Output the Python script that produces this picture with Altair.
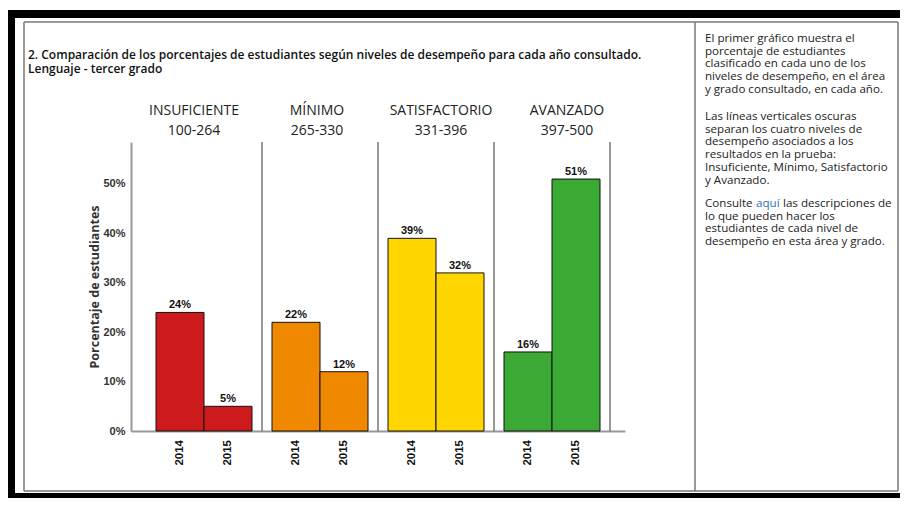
import altair as alt
import pandas as pd

# ---------------- data ----------------
levels = ["INSUFICIENTE", "MÍNIMO", "SATISFACTORIO", "AVANZADO"]
ranges = ["100-264", "265-330", "331-396", "397-500"]
years = ["2014", "2015"]
pct_2014 = [24, 22, 39, 16]
pct_2015 = [5, 12, 32, 51]
colors = ["#cd1a1c", "#f08800", "#ffd600", "#3aaa35"]
y_ticks = [0, 10, 20, 30, 40, 50]

title_lines = [
    "2. Comparación de los porcentajes de estudiantes según niveles de desempeño para cada año consultado.",
    "Lenguaje - tercer grado",
]
para1 = [
    "El primer gráfico muestra el",
    "porcentaje de estudiantes",
    "clasificado en cada uno de los",
    "niveles de desempeño, en el área",
    "y grado consultado, en cada año.",
]
para2 = [
    "Las líneas verticales oscuras",
    "separan los cuatro niveles de",
    "desempeño asociados a los",
    "resultados en la prueba:",
    "Insuficiente, Mínimo, Satisfactorio",
    "y Avanzado.",
]
para3_first = ["Consulte", "aquí", "las descripciones de"]
para3_rest = [
    "lo que pueden hacer los",
    "estudiantes de cada nivel de",
    "desempeño en esta área y grado.",
]
y_title = "Porcentaje de estudiantes"

rows = []
for i, lv in enumerate(levels):
    for yr, vals in zip(years, [pct_2014, pct_2015]):
        rows.append({"level": lv, "year": yr, "pct": vals[i], "label": f"{vals[i]}%"})
df = pd.DataFrame(rows)
hdr = pd.DataFrame({"level": levels, "range": ranges})
one = alt.Data(values=[{"k": 1}])

# ---------------- layout / style ----------------
W, H = 494, 289
PAD = {"left": 123, "top": 134, "right": 892 - 123 - W, "bottom": 490 - 134 - H}
header_dx = [-10, -3, 5, 15]  # header text nudges (HTML-like placement)

TXT_FONT = "Open Sans"
NUM_FONT = "Liberation Sans Narrow, Arial Narrow, Liberation Sans, sans-serif"

x_scale = alt.Scale(domain=levels, paddingInner=20 / 116, paddingOuter=25 / 116)
xo_scale = alt.Scale(domain=years, paddingInner=0, paddingOuter=0)
y_scale = alt.Scale(domain=[0, 58.5], nice=False)
c_scale = alt.Scale(domain=levels, range=colors)

x_axis = alt.Axis(labels=False, ticks=False, title=None, domainColor="#999",
                  domainWidth=2, grid=False)
y_axis = alt.Axis(values=y_ticks, labelExpr="datum.value + '%'", ticks=False,
                  domainColor="#999", domainWidth=2, grid=False,
                  labelFont=NUM_FONT, labelFontSize=11, labelFontWeight="bold",
                  labelColor="#333", labelPadding=6,
                  title=y_title, titleFont=TXT_FONT, titleFontSize=12.5,
                  titleFontWeight="bold", titleColor="#333", titlePadding=1)


def X(**kw):
    return alt.X("level:N", scale=x_scale, axis=x_axis, sort=levels, title=None, **kw)


def Y(field="pct:Q"):
    return alt.Y(field, scale=y_scale, axis=y_axis, title=y_title)


bars = alt.Chart(df).mark_bar(stroke="#111", strokeWidth=1).encode(
    x=X(),
    xOffset=alt.XOffset("year:N", scale=xo_scale),
    y=Y(),
    color=alt.Color("level:N", scale=c_scale, legend=None),
)

bar_labels = alt.Chart(df).mark_text(
    baseline="alphabetic", dy=-4, font=NUM_FONT, fontSize=11, fontWeight="bold", color="#111"
).encode(
    x=X(),
    xOffset=alt.XOffset("year:N", scale=xo_scale),
    y=Y(),
    text="label:N",
)

year_labels = alt.Chart(df).mark_text(
    angle=270, align="right", baseline="middle", dx=-9,
    font="Liberation Sans, Arial, sans-serif", fontSize=11.5, fontWeight="bold", color="#111"
).encode(
    x=X(),
    xOffset=alt.XOffset("year:N", scale=xo_scale),
    y=Y(),
    text="year:N",
).transform_calculate(pct="0")

separators = alt.Chart(hdr).mark_rule(color="#555", strokeWidth=1.2, xOffset=10).encode(
    x=X(bandPosition=1),
)

headers = []
for i, lv in enumerate(levels):
    sub = alt.Chart(hdr).transform_filter(alt.datum.level == lv)
    headers.append(sub.mark_text(
        baseline="alphabetic", font=TXT_FONT, fontSize=14, color="#222", dx=header_dx[i]
    ).encode(x=X(), y=alt.value(-27), text="level:N"))
    headers.append(sub.mark_text(
        baseline="alphabetic", font=TXT_FONT, fontSize=14, color="#222", dx=header_dx[i]
    ).encode(x=X(), y=alt.value(-7), text="range:N"))


def text_block(lines, x, y, color="#222", size=11.6, weight="normal", lh=12.7):
    return alt.Chart(one).mark_text(
        align="left", baseline="alphabetic", font=TXT_FONT, fontSize=size,
        fontWeight=weight, color=color, lineHeight=lh
    ).encode(x=alt.value(x), y=alt.value(y), text=alt.value(lines))


def hrule(x1, x2, y, color, w):
    return alt.Chart(one).mark_rule(color=color, strokeWidth=w).encode(
        x=alt.value(x1), x2=alt.value(x2), y=alt.value(y))


def vrule(x, y1, y2, color, w):
    return alt.Chart(one).mark_rule(color=color, strokeWidth=w).encode(
        x=alt.value(x), y=alt.value(y1), y2=alt.value(y2))


frame = [
    hrule(-123, 769, -128, "#000", 8),
    vrule(-120, -132, 356, "#000", 8),
    hrule(-124, 769, 353.5, "#000", 5),
    hrule(-107, 767, -120, "#777", 1.5),
    vrule(-107, -120, 349, "#777", 1.5),
    vrule(564, -120, 349, "#777", 1.5),
    vrule(767, -120, 349, "#777", 1.5),
    hrule(-107, 767, 349, "#777", 1.5),
]

texts = [
    text_block(title_lines, -103, -83, color="#111", size=12, weight=600, lh=14),
    text_block(para1, 574, -100),
    text_block(para2, 574, -22),
    text_block([para3_first[0]], 574, 65),
    text_block([para3_first[1]], 625, 65, color="#2a6ebb"),
    text_block([para3_first[2]], 652, 65),
    text_block(para3_rest, 574, 77.7),
]

chart = alt.layer(
    bars, bar_labels, year_labels, separators, *headers, *frame, *texts
).properties(
    width=W, height=H,
    autosize=alt.AutoSizeParams(type="none"),
    padding=PAD,
).configure_view(stroke=None)

chart.save("out.html", embed_options={"renderer": "svg", "actions": False})
